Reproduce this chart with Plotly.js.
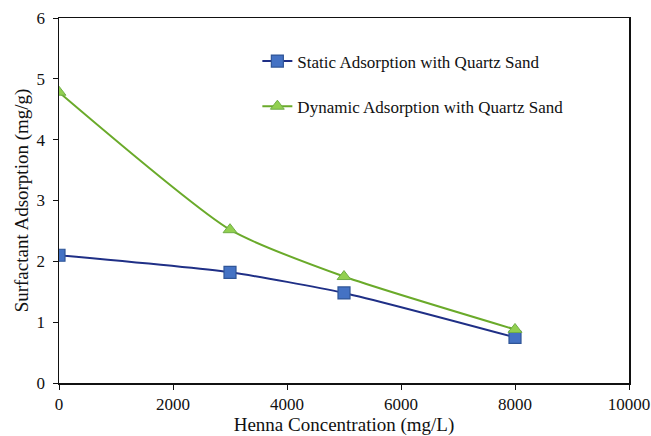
<!DOCTYPE html>
<html>
<head>
<meta charset="utf-8">
<script src="https://cdn.plot.ly/plotly-3.0.1.min.js"></script>
<style>html,body{margin:0;padding:0;background:#fff;}#chart{width:651px;height:436px;}</style>
</head>
<body>
<div id="chart"></div>
<script>
// Henna concentration (mg/L)
const concentration = [0, 3000, 5000, 8000];
// Surfactant adsorption (mg/g)
const staticAdsorption = [2.10, 1.82, 1.48, 0.75];
const dynamicAdsorption = [4.78, 2.52, 1.75, 0.88];
const seriesNames = ['Static Adsorption with Quartz Sand', 'Dynamic Adsorption with Quartz Sand'];
const xTicks = [0, 2000, 4000, 6000, 8000, 10000];
const yTicks = [0, 1, 2, 3, 4, 5, 6];

const serif = 'Liberation Serif, Times New Roman, serif';
const ink = '#111111';

const traces = [
  {
    x: concentration, y: staticAdsorption, name: seriesNames[0],
    type: 'scatter', mode: 'lines+markers', legendgroup: 'a',
    line: {color: '#1f2f86', width: 2, shape: 'spline', smoothing: 0.6},
    marker: {symbol: 'square', size: 12, color: '#4472c4', line: {color: '#2f5597', width: 1.2}}
  },
  {
    x: concentration, y: dynamicAdsorption, name: seriesNames[1],
    type: 'scatter', mode: 'lines+markers', legendgroup: 'b',
    line: {color: '#6aaa2a', width: 2, shape: 'spline', smoothing: 0.6},
    marker: {symbol: 'triangle-up', size: 12, color: '#92d050', line: {color: '#70ad47', width: 1}}
  }
];

const layout = {
  width: 651, height: 436,
  margin: {l: 59, r: 22, t: 18, b: 53},
  paper_bgcolor: '#ffffff', plot_bgcolor: '#ffffff',
  font: {family: serif, size: 17, color: ink},
  showlegend: true,
  legend: {
    x: 0.348, y: 0.93, xanchor: 'left', yanchor: 'top',
    bgcolor: 'rgba(0,0,0,0)', borderwidth: 0,
    font: {family: serif, size: 17, color: ink},
    traceorder: 'grouped', tracegroupgap: 20, itemwidth: 30
  },
  xaxis: {
    range: [0, 10000], tickvals: xTicks, ticktext: xTicks.map(String),
    showgrid: false, zeroline: false,
    showline: true, linecolor: ink, linewidth: 1.5, mirror: true,
    ticks: 'outside', ticklen: 5, tickcolor: ink,
    tickfont: {family: serif, size: 17, color: ink},
    title: {text: 'Henna Concentration (mg/L)', font: {family: serif, size: 19, color: ink}, standoff: 6}
  },
  yaxis: {
    range: [0, 6], tickvals: yTicks, ticktext: yTicks.map(String),
    showgrid: false, zeroline: false,
    showline: true, linecolor: ink, linewidth: 1.5, mirror: true,
    ticks: 'outside', ticklen: 5, tickcolor: ink, ticklabelstandoff: 4,
    tickfont: {family: serif, size: 17, color: ink},
    title: {text: 'Surfactant Adsorption (mg/g)', font: {family: serif, size: 19, color: ink}, standoff: 3}
  }
};

Plotly.newPlot('chart', traces, layout, {staticPlot: true, displayModeBar: false});
</script>
</body>
</html>
